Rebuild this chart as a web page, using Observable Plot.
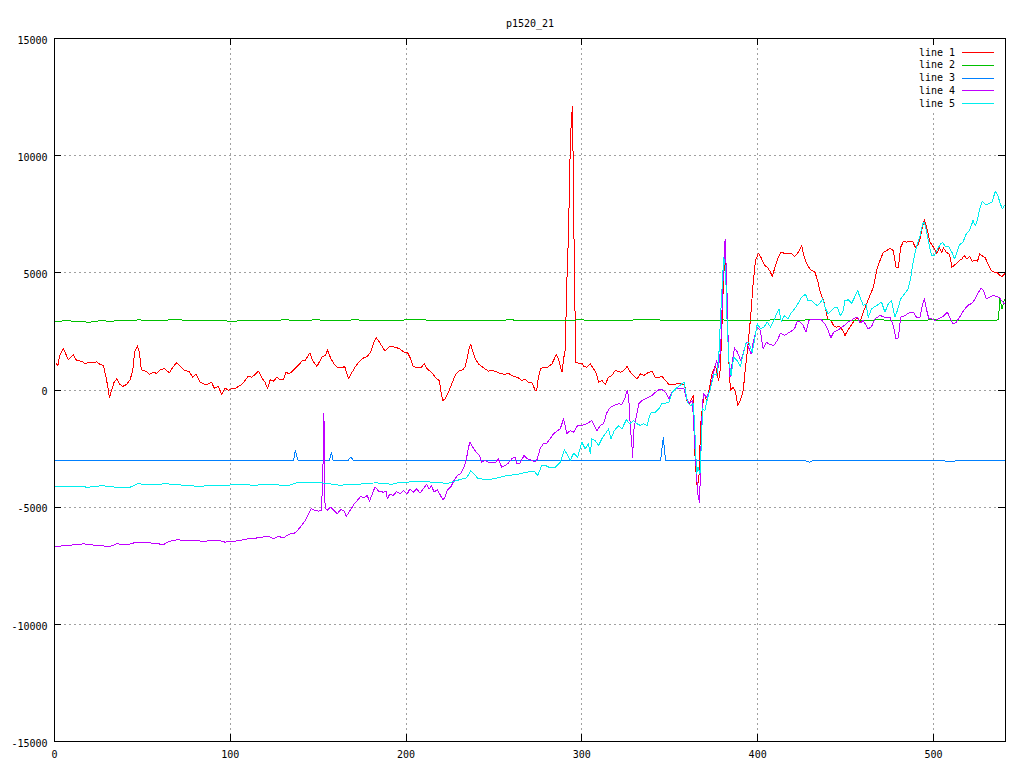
<!DOCTYPE html>
<html>
<head>
<meta charset="utf-8">
<script src="https://cdn.jsdelivr.net/npm/d3@7"></script>
<script src="https://cdn.jsdelivr.net/npm/@observablehq/plot@0.6"></script>
<style>
  html, body { margin: 0; padding: 0; background: #ffffff; }
  #chart { width: 1024px; height: 768px; }
</style>
</head>
<body>
<div id="chart"></div>
<script>
const chartTitle = "p1520_21";
const seriesNames = ["line 1", "line 2", "line 3", "line 4", "line 5"];
const seriesColors = ["#ff0000", "#00c000", "#0080ff", "#c000ff", "#00eeee"];
const xDomain = [0, 541];
const yDomain = [-15000, 15000];
const xTicks = [0, 100, 200, 300, 400, 500];
const yTicks = [-15000, -10000, -5000, 0, 5000, 10000, 15000];
const xGrid = [100, 200, 300, 400, 500];
const yGrid = [-10000, -5000, 0, 5000, 10000];

const line1 = [[0.8,1150],[1.9,1045],[3,1472],[5,1784],[7.8,1300],[10.7,1500],[12.6,1258],[15.5,1230],[17.4,1117],[19.3,1180],[22,1160],[24,1200],[25.9,1088],[27.8,1045],[29.3,547],[30.3,150],[31.2,-333],[32.5,-21],[33.9,333],[35.4,476],[37.3,235],[38.8,150],[41,235],[43,434],[44.5,832],[45.6,1614],[47.2,1885],[48.3,1614],[49.4,860],[52,803],[54,661],[56.6,775],[58,690],[60.4,889],[62.8,903],[65.3,733],[67.6,1003],[69.5,1160],[72.3,946],[74.2,832],[76.7,775],[78.6,547],[80.5,675],[82.8,333],[84.7,263],[86.6,235],[89.4,333],[90.8,78],[93.2,150],[95.1,-192],[97,92],[98.9,-21],[100.8,50],[102.7,50],[104.6,150],[106.5,235],[108.4,405],[110.3,590],[112.2,547],[114.1,661],[116,803],[117.9,519],[119.8,333],[121.2,50],[122.7,434],[124.6,376],[126.5,547],[128.4,434],[130.3,434],[131.6,760],[133.5,690],[135.4,803],[137.3,946],[139.2,1088],[141.1,1258],[142.6,1258],[145.3,1586],[146.8,1258],[149.3,1003],[150.3,1145],[152.2,1401],[154.1,1472],[155.4,1714],[157,1372],[158.9,1117],[161.3,946],[163.2,946],[165.1,1003],[166,760],[167.4,476],[169.3,760],[171.2,1003],[173.5,1230],[176,1372],[177.9,1429],[179.8,1614],[181.7,2040],[183,2225],[184.5,2083],[186.4,1856],[188,1657],[190.8,1870],[193.7,1827],[196.5,1756],[198.8,1614],[200.7,1614],[202.6,1330],[204.1,1003],[207,946],[208.8,975],[210.3,1117],[212,903],[213.6,803],[215.5,661],[217.4,476],[219,405],[219.7,-21],[220.9,-448],[222.2,-376],[224.1,-92],[225.4,150],[226.9,434],[228.4,690],[230.3,832],[232.2,860],[233.7,1003],[234.9,1401],[236,1827],[236.8,1941],[237.9,1657],[239.2,1372],[241.1,1117],[243,1003],[244.9,903],[246.8,803],[248.7,832],[250.6,803],[252.5,733],[254.4,690],[256.3,661],[258.2,718],[260.1,619],[262,576],[263.9,519],[265.8,405],[267.7,476],[269.6,333],[271.5,333],[273.4,-7],[274.3,-21],[275.3,547],[276.6,903],[278.2,974],[280.1,946],[283,1117],[285.4,1500],[286.7,1330],[288.1,917],[288.8,775],[289.6,1330],[290.5,1685],[291.5,4672],[292.4,6663],[293.4,10360],[294,11500],[294.7,12097],[295.3,7872],[296,3819],[296.6,1187],[298.1,1145],[300,1145],[301,1003],[302.9,975],[304.8,1117],[306.7,903],[308.2,718],[309.5,333],[311.4,405],[313.3,235],[315.2,547],[317.1,619],[319,832],[321.9,761],[323.8,832],[325.7,1003],[327.6,761],[329.5,619],[331.4,476],[333.3,690],[335.2,619],[337.1,718],[340,803],[341.9,519],[343.8,547],[345.7,576],[347.6,405],[349.5,235],[352.4,235],[355.2,292],[357.1,235],[358.5,263],[359.6,-448],[361,-590],[362.3,-377],[363.5,-235],[364.2,-2581],[365,-3577],[365.7,-4217],[366.7,-3577],[367.6,-1443],[368.4,-875],[369.5,-163],[371,-448],[372.4,0],[374,690],[376,1045],[377.8,405],[378.8,903],[379.8,2966],[380.7,4958],[381.7,5667],[382.6,2966],[383.6,1258],[384.5,-21],[386,121],[387.4,-92],[388.7,-661],[390.2,-448],[391.8,-21],[393.1,974],[394.4,1827],[396,3107],[397.5,4600],[398.8,5526],[400.4,5837],[402,5640],[404,5312],[405.5,5240],[407,5070],[408.4,4843],[409.8,5240],[411.7,5667],[413.2,5880],[415.1,5837],[417.4,5837],[419.3,5808],[421.2,5700],[423.1,5880],[425,6165],[426.5,5667],[428.4,5312],[430.3,5127],[432.6,5028],[434.1,4672],[435.6,4174],[437.5,3819],[438.8,3392],[439.8,3037],[441.7,2966],[443.2,2752],[444.6,2681],[446.5,2710],[448.4,2539],[449.7,2326],[451.2,2539],[453.1,2752],[455,2966],[456.9,3080],[458.2,2894],[460.1,3321],[462,3677],[463.9,4032],[465.8,4388],[467.7,5100],[469.6,5526],[471.5,5880],[473.4,5950],[475.3,6051],[477.2,5950],[478.7,5240],[480,5212],[481.4,6094],[482.9,6336],[484.8,6308],[486.7,6350],[488.2,6336],[489.6,6094],[491.5,6208],[492.8,6593],[493.9,7019],[494.9,7260],[496.2,6920],[498.1,6308],[500,6094],[501.9,5810],[503.3,6066],[504.8,5880],[505.7,6066],[507.3,5880],[509.2,5780],[510.5,5240],[512.4,5354],[514.3,5496],[516.2,5596],[517.5,5738],[519,5596],[520.6,5695],[521.9,5496],[523.8,5524],[525.1,5496],[526.3,5810],[527.6,5738],[529.5,5638],[531.4,5312],[532.8,5100],[534.7,5028],[536.2,5028],[537.1,4930],[539,4843],[540,4930],[541,4986]];

const line2 = [[0,2930],[6,2950],[12,2940],[19.5,2890],[25,2950],[32,2940],[40,2960],[48,2990],[55,2970],[62,2980],[70,3000],[78,2960],[85,2970],[92,2960],[100,2940],[110,2950],[120,2960],[130,2990],[140,2980],[150,2990],[160,2960],[170,2990],[180,2980],[190,2960],[200,2990],[210,2990],[220,2960],[230,2970],[240,2960],[250,2980],[260,2990],[270,2960],[280,2960],[290,2980],[300,2990],[310,2960],[320,2950],[330,2990],[340,3000],[350,2970],[360,2980],[370,2960],[380,2990],[390,2960],[400,2980],[410,2990],[420,2980],[430,2990],[440,2990],[450,2960],[460,2980],[470,2990],[480,2970],[490,2980],[500,2990],[510,2970],[520,2980],[530,2960],[537,2990],[537.8,3950],[539,3450],[540.4,3850]];

const line3 = [[0,-3020],[8,-3000],[15,-3010],[22,-2990],[30,-3005],[38,-2995],[45,-3010],[55,-3000],[62,-2990],[70,-3015],[78,-3000],[85,-3010],[92,-3000],[100,-3005],[110,-2995],[120,-3000],[128,-2990],[133,-3005],[136,-3000],[137,-2580],[138.5,-3000],[145,-3000],[152,-3010],[156.5,-3000],[157.5,-2650],[158.5,-3000],[163,-3010],[167,-3000],[168.5,-2860],[170,-3000],[178,-3005],[185,-2995],[192,-3000],[200,-3010],[208,-2995],[215,-3000],[222,-3010],[230,-2990],[238,-3000],[246,-3005],[255,-2995],[262,-3000],[270,-3010],[278,-3000],[286,-2995],[294,-3000],[302,-3010],[310,-3000],[318,-2995],[326,-3000],[334,-3005],[340,-3000],[344.8,-3000],[346.3,-2040],[347.6,-2990],[352,-3000],[358,-2995],[365,-3000],[372,-3005],[380,-2990],[388,-2995],[396,-3000],[404,-3010],[412,-2995],[420,-3005],[426,-3000],[429.4,-3080],[432,-3000],[440,-2995],[448,-3005],[456,-3000],[464,-3010],[472,-2995],[480,-3000],[488,-3005],[496,-2995],[504,-3000],[510,-3070],[514,-3000],[522,-2990],[530,-3000],[536,-3010],[541,-2990]];

const line4 = [[0.8,-6678],[7,-6635],[16.6,-6564],[24,-6635],[31.6,-6678],[35.4,-6564],[41,-6607],[46.8,-6493],[54.3,-6522],[62,-6593],[65.6,-6451],[69.5,-6394],[77,-6422],[84.7,-6451],[94,-6422],[97,-6493],[102.7,-6451],[110.3,-6351],[116,-6308],[121.7,-6237],[124.6,-6351],[127.4,-6251],[130.3,-6308],[133.1,-6166],[137,-6094],[139.8,-5853],[142.6,-5568],[144.5,-5282],[146.1,-5056],[148,-5141],[150.3,-5170],[151.8,-5141],[152.6,-3861],[153.2,-1017],[153.6,-2013],[153.9,-5000],[155.1,-5141],[157,-5000],[158.9,-5141],[160.8,-5282],[162.7,-5112],[164.6,-5141],[166,-5397],[168.4,-5112],[170.3,-4886],[172.2,-4715],[174.1,-4545],[176,-4602],[177.9,-4502],[179.2,-4743],[180.8,-4431],[182.3,-4147],[184.5,-4317],[187,-4360],[188.6,-4317],[189.3,-4644],[190.8,-4431],[192.7,-4502],[194.6,-4331],[196.5,-4431],[198.4,-4289],[200.7,-4431],[202.2,-4218],[204.1,-4360],[206,-4218],[207.9,-4403],[209.8,-4218],[211.7,-4033],[213.2,-4218],[214.5,-4075],[215.9,-4360],[217.8,-4260],[219.3,-4460],[220.9,-4687],[222.2,-4573],[223.5,-4260],[225.4,-4147],[227.3,-3861],[229.2,-3648],[231.1,-3577],[233,-3293],[234.5,-2866],[235.5,-2439],[236.4,-2226],[237.9,-2439],[239.8,-2652],[241.7,-2795],[243,-3079],[244.9,-3008],[246.8,-3079],[248.7,-3079],[250.6,-3121],[252.5,-2937],[254.4,-3293],[256.3,-3221],[258.2,-3121],[260.1,-2937],[262,-2866],[262.9,-3121],[264.8,-3121],[267.1,-2795],[269,-2937],[270.9,-2980],[273.4,-3079],[274.7,-2937],[276.2,-2510],[278.1,-2297],[280,-2268],[282,-2083],[283.9,-1870],[285.8,-1756],[287.7,-1657],[289.6,-1230],[291.5,-1870],[293.4,-1728],[295.3,-1800],[297.6,-1515],[300,-1515],[302.9,-1443],[305.7,-1300],[308.6,-1728],[310.5,-1515],[312.4,-1443],[313.9,-1017],[316.2,-733],[318.1,-662],[321,-590],[322.8,-619],[324.7,-306],[325.7,-21],[326.6,-235],[327.6,-1586],[328.4,-2297],[328.9,-2866],[329.5,-1728],[330.5,-1300],[332.4,-590],[334.3,-448],[336.2,-377],[338.1,-306],[340,-235],[341.9,-92],[343.8,7],[345.7,7],[347.6,-92],[349.5,-377],[351.4,-92],[353.3,50],[355.7,50],[358.1,50],[359.6,-377],[361,-562],[362.9,-448],[364.2,-2297],[365.3,-3719],[366.1,-4502],[367,-4786],[367.6,-2866],[368.2,-1300],[369.1,-163],[371,-306],[372.9,-21],[374.8,690],[376.7,1258],[377.8,974],[379,1827],[380.5,5100],[381.5,6450],[382.5,4388],[383.4,1543],[384.3,547],[385.7,1258],[386.8,1799],[388.5,1614],[390.4,1258],[392,1614],[393.5,2040],[394.8,1827],[396.2,1543],[397.7,2111],[399.6,2681],[401.5,2539],[403.1,1757],[405,2040],[406.9,1941],[409.2,1899],[411.1,2111],[413,2425],[415.3,2326],[417.2,2425],[419.1,2510],[421,2610],[422.5,2937],[424.4,2894],[425.9,2752],[427.5,2468],[429.2,2966],[431.1,3023],[433.6,2994],[435.9,3023],[438.2,2823],[440.1,2539],[441.7,2225],[443.2,2468],[445.5,2539],[447.4,2653],[449.3,2752],[451.2,2894],[453.1,2966],[455.4,3080],[456.9,3107],[458.2,2852],[460.1,2966],[462.9,2610],[464.8,2710],[466.7,3037],[469.6,3179],[472.4,3107],[475.3,3107],[477.2,2752],[478.7,2184],[480,2226],[481.4,3107],[483.8,3179],[486.7,3321],[488.6,3321],[490.5,3080],[492.4,3107],[493.9,3677],[494.9,3890],[496.2,3393],[497.4,3037],[499,3037],[500.9,2966],[502.9,3037],[504.8,3107],[506.7,3221],[508,3321],[509.6,3037],[511.1,2823],[513,2894],[514.9,3107],[517.2,3393],[519.5,3606],[522,3705],[523.8,3890],[525.7,4174],[527.1,4360],[528.6,4218],[530.1,3890],[532,3962],[533.9,4032],[535.8,3990],[537.7,3933],[539,3791],[540.4,3677]];

const line5 = [[0.8,-4118],[7,-4104],[12.6,-4118],[19.3,-4147],[25.9,-4090],[31.6,-4104],[36.3,-4175],[43,-4147],[47.2,-4004],[54.3,-4033],[63.8,-4004],[73.3,-4061],[82.8,-4118],[88.5,-4061],[95.1,-4090],[102.7,-4033],[114.1,-4061],[121.7,-4033],[133.1,-4075],[138.8,-3933],[146.4,-3933],[154.1,-3975],[161.7,-4061],[171.2,-4033],[182.6,-3962],[188.4,-3990],[191.8,-4033],[196.5,-3933],[207.9,-3919],[219.3,-3933],[223.1,-4004],[228.8,-3861],[234.5,-3748],[236.8,-3435],[238.7,-3577],[240.6,-3762],[245.9,-3833],[251.6,-3762],[257.3,-3648],[263,-3605],[268.6,-3506],[272.8,-3464],[274.9,-3648],[277.2,-3221],[279.2,-3221],[282,-3321],[284.9,-3293],[287.7,-3079],[290,-2553],[291.5,-2724],[293.4,-3008],[295.3,-2695],[297.6,-2866],[300,-2226],[301.9,-2510],[303.8,-2297],[304.8,-2724],[305.7,-2083],[307.6,-2155],[309.5,-2368],[311.4,-2083],[313.3,-1870],[315.2,-1657],[316.6,-2083],[318.5,-1728],[321,-1515],[322.8,-1657],[325.3,-1272],[327.2,-1443],[329.5,-1300],[331.4,-1443],[333.3,-1515],[335.2,-1443],[337.1,-1515],[339,-988],[341.9,-946],[343.8,-804],[345.7,-562],[347.6,-562],[349.5,-519],[351.4,-92],[353.3,50],[355.7,192],[358.1,333],[360,-519],[361.9,-662],[363.5,-590],[364.6,-2297],[365.3,-3577],[366.1,-3293],[367.2,-3577],[367.8,-2581],[368.7,-804],[370,-875],[371.4,-377],[373.3,121],[375.2,690],[376.7,619],[377.8,1258],[378.8,2966],[379.8,4388],[380.7,5667],[381.7,5240],[382.6,2966],[383.6,1258],[384.9,619],[386.4,1401],[388.3,1258],[390.2,1003],[391.8,1543],[393.3,1970],[395,2040],[396.9,1614],[398.2,2111],[399.8,2823],[401.7,2610],[403.6,2681],[405.5,2894],[407.4,2681],[409.2,2966],[410.8,3250],[412.1,3463],[413.4,2937],[415.3,3179],[417.2,3037],[418.7,3250],[421,3463],[422.9,3677],[424.4,3890],[425.9,4032],[427.3,4075],[428.6,3819],[430.5,3819],[432.4,3677],[433.9,3606],[435.4,3705],[437,3890],[438.7,3463],[440.1,3250],[441.9,3393],[443.4,3506],[445.5,3506],[447,3179],[448.4,3321],[449.7,3819],[451.6,3848],[453.5,3705],[455,3933],[456.9,4246],[458.2,3962],[460.1,3606],[461.6,3677],[462.9,3107],[464.8,3463],[467.7,3606],[470.5,3748],[472.4,3321],[474.3,3677],[476.2,3819],[478.1,3107],[479.5,3393],[481.4,3890],[483.8,4132],[485.7,4317],[487.1,4814],[488.6,5526],[490.5,6165],[492.4,6593],[493.9,7090],[494.9,7161],[496.2,6735],[497.8,6094],[499,5738],[500.3,5738],[501.9,5950],[503.8,6208],[505.3,6308],[506.7,6122],[508.6,6122],[510.5,5880],[512,5596],[513.4,5880],[514.9,6208],[516.8,6308],[518.7,6664],[520.6,6806],[522.5,7232],[523.8,7019],[525.1,7260],[526.3,7730],[527.8,8057],[529.5,7915],[531.4,7943],[533.3,8014],[535.2,8483],[536.6,8298],[538.1,7943],[539.2,7730],[540.4,7872]];

const seriesData = [line1, line2, line3, line4, line5];

const W = 1024, H = 768;
const mL = 54, mR = 19, mT = 38, mB = 27;
const plotW = W - mL - mR, plotH = H - mT - mB;
const tickLen = 7;
const FONT = "'DejaVu Sans Mono', monospace";

function legendMark(index, scales, values, dims) {
  const right = dims.width - dims.marginRight;
  const top = dims.marginTop;
  const g = d3.create("svg:g");
  g.append("rect")
    .attr("x", right - 93).attr("y", top + 6)
    .attr("width", 88).attr("height", 68)
    .attr("fill", "#ffffff");
  seriesNames.forEach((name, i) => {
    const y = top + 14 + i * 12.8;
    g.append("text")
      .attr("x", right - 50).attr("y", y)
      .attr("dy", "0.35em")
      .attr("text-anchor", "end")
      .attr("font-family", FONT)
      .attr("font-size", 10)
      .attr("fill", "#000000")
      .text(name);
    g.append("line")
      .attr("x1", right - 43).attr("x2", right - 11)
      .attr("y1", Math.round(y) + 0.5).attr("y2", Math.round(y) + 0.5)
      .attr("stroke", seriesColors[i]).attr("stroke-width", 1)
      .attr("shape-rendering", "crispEdges");
  });
  return g.node();
}

const marks = [
  Plot.ruleX(xGrid, {x: d => d, stroke: "#a0a0a0", strokeDasharray: "2,3", strokeWidth: 1, shapeRendering: "crispEdges"}),
  Plot.ruleY(yGrid, {y: d => d, stroke: "#a0a0a0", strokeDasharray: "2,3", strokeWidth: 1, shapeRendering: "crispEdges"}),
  legendMark,
  ...seriesData.map((data, i) => Plot.line(data, {
    x: d => d[0], y: d => d[1], stroke: seriesColors[i], strokeWidth: 1, curve: "linear",
    shapeRendering: "crispEdges"
  })),
  Plot.tickY(yTicks, {y: d => d, stroke: "#000", insetRight: plotW - tickLen, shapeRendering: "crispEdges"}),
  Plot.tickY(yTicks, {y: d => d, stroke: "#000", insetLeft: plotW - tickLen, shapeRendering: "crispEdges"}),
  Plot.tickX(xTicks, {x: d => d, stroke: "#000", insetBottom: plotH - tickLen, shapeRendering: "crispEdges"}),
  Plot.tickX(xTicks, {x: d => d, stroke: "#000", insetTop: plotH - tickLen, shapeRendering: "crispEdges"}),
  Plot.axisY({ticks: yTicks, tickSize: 0, tickPadding: 7, tickFormat: d => String(d), label: null, fontSize: 10, dy: 2}),
  Plot.axisX({ticks: xTicks, tickSize: 0, tickPadding: 9, tickFormat: d => String(d), label: null, fontSize: 10}),
  Plot.text([chartTitle], {text: d => d, frameAnchor: "top", dy: -19, fontSize: 10, fill: "#000"}),
  Plot.frame({stroke: "#000", strokeWidth: 1, shapeRendering: "crispEdges"})
];

const chart = Plot.plot({
  width: W, height: H,
  marginLeft: mL, marginRight: mR, marginTop: mT, marginBottom: mB,
  x: {domain: xDomain, axis: null},
  y: {domain: yDomain, axis: null},
  style: {fontFamily: FONT, fontSize: "10px", background: "#ffffff", color: "#000000"},
  marks
});
document.getElementById("chart").appendChild(chart);
</script>
</body>
</html>
